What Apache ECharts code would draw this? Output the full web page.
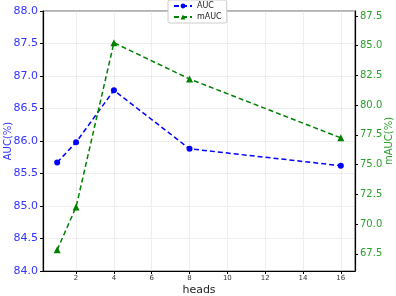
<!DOCTYPE html>
<html><head><meta charset="utf-8">
<script src="https://cdn.jsdelivr.net/npm/echarts@6/dist/echarts.min.js"></script>
<style>html,body{margin:0;padding:0;background:#fff}#c{width:396px;height:296px}</style>
</head><body><div id="c"></div>
<script>
const heads = [1, 2, 4, 8, 16];
const aucValues = [85.67, 85.98, 86.78, 85.88, 85.62];
const mAucValues = [67.83, 71.44, 85.25, 82.2, 77.25];
const xTicks = [2, 4, 6, 8, 10, 12, 14, 16];
const rightTicks = [67.5, 70.0, 72.5, 75.0, 77.5, 80.0, 82.5, 85.0, 87.5];

const chart = echarts.init(document.getElementById('c'), null, {renderer: 'canvas'});
chart.setOption({
  animation: false,
  backgroundColor: '#fff',
  grid: {left: 43, right: 41, top: 11, bottom: 25, containLabel: false, outerBoundsMode: 'none', show: true, borderColor: '#999', borderWidth: 1.5},
  legend: {
    orient: 'vertical', left: 168, top: 0, itemWidth: 18, itemHeight: 6, itemGap: 3,
    padding: [2, 5, 2, 5], borderColor: '#ccc', borderWidth: 1, borderRadius: 2, backgroundColor: '#fff',
    textStyle: {fontSize: 8, color: '#222', fontFamily: 'DejaVu Sans'},
    data: ['AUC', 'mAUC']
  },
  xAxis: {
    type: 'value', min: 0.25, max: 16.75,
    name: 'heads', nameLocation: 'middle', nameGap: 14, nameMoveOverlap: false,
    nameTextStyle: {fontSize: 11, color: '#222', fontFamily: 'DejaVu Sans', verticalAlign: 'top'},
    axisLine: {show: true, onZero: false, lineStyle: {color: '#000', width: 1.2}},
    axisTick: {show: true, inside: false, length: 3, customValues: xTicks, lineStyle: {color: '#000'}},
    axisLabel: {customValues: xTicks, fontSize: 7, color: '#333', margin: 4, fontFamily: 'DejaVu Sans'},
    splitLine: {show: false}
  },
  yAxis: [{
    type: 'value', min: 84, max: 88, interval: 0.5, position: 'left',
    name: 'AUC(%)', nameLocation: 'middle', nameGap: 30, nameMoveOverlap: false,
    nameTextStyle: {fontSize: 10, color: '#3333ff', fontFamily: 'DejaVu Sans'},
    axisLine: {show: true, lineStyle: {color: '#000', width: 1.2}},
    axisTick: {show: true, length: 3, lineStyle: {color: '#000'}},
    axisLabel: {fontSize: 11, color: '#3333ff', margin: 5, fontFamily: 'DejaVu Sans', formatter: v => v.toFixed(1)},
    splitLine: {show: true, lineStyle: {color: '#d4d4d4', width: 0.8, type: 'dotted'}}
  }, {
    type: 'value', min: 66.05, max: 87.92, position: 'right',
    name: 'mAUC(%)', nameLocation: 'middle', nameGap: 29, nameMoveOverlap: false,
    nameTextStyle: {fontSize: 10, color: '#2ca02c', fontFamily: 'DejaVu Sans'},
    axisLine: {show: true, lineStyle: {color: '#000', width: 1.2}},
    axisTick: {show: true, length: 3, customValues: rightTicks, lineStyle: {color: '#000'}},
    axisLabel: {customValues: rightTicks, fontSize: 10, color: '#2ca02c', margin: 5, fontFamily: 'DejaVu Sans', formatter: v => v.toFixed(1)},
    splitLine: {show: false}
  }],
  series: [{
    name: 'AUC', type: 'line', yAxisIndex: 0,
    data: heads.map((h, i) => [h, aucValues[i]]),
    symbol: 'circle', symbolSize: 6,
    lineStyle: {color: '#0000ff', width: 1.5, type: [5, 3]},
    itemStyle: {color: '#0000ff'},
    markLine: {
      silent: true, symbol: 'none', label: {show: false},
      lineStyle: {color: '#d4d4d4', width: 0.8, type: 'dotted'},
      data: xTicks.map(v => ({xAxis: v})), z: 0
    }
  }, {
    name: 'mAUC', type: 'line', yAxisIndex: 1,
    data: heads.map((h, i) => [h, mAucValues[i]]),
    symbol: 'triangle', symbolSize: 7,
    lineStyle: {color: '#008000', width: 1.5, type: [5, 3]},
    itemStyle: {color: '#008000'}
  }]
});
</script></body></html>
